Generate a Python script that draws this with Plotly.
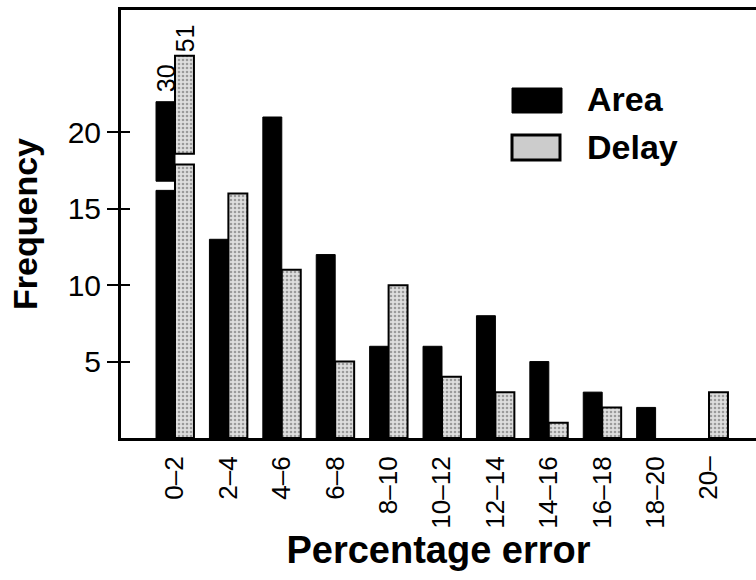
import plotly.graph_objects as go

# ---------------- data ----------------
categories = ["0–2", "2–4", "4–6", "6–8", "8–10", "10–12",
              "12–14", "14–16", "16–18", "18–20", "20–"]
area = [30, 13, 21, 12, 6, 6, 8, 5, 3, 2, 0]
delay = [51, 16, 11, 5, 10, 4, 3, 1, 2, 0, 3]

# broken-bar display for values beyond the axis: (lower top, upper base, upper top)
area_break = (16.2, 16.8, 22.0)
delay_break = (17.9, 18.6, 25.0)
y_max = 28

FONT = "Liberation Sans, Arial, Helvetica, sans-serif"
BARGAP = 0.29
DELAY_FILL = "#cccccc"

x_idx = list(range(len(categories)))


def split(values, brk):
    low = [brk[0] if v > y_max else (v if v > 0 else None) for v in values]
    up_x = [x for x, v in zip(x_idx, values) if v > y_max]
    return low, up_x


area_low, area_up_x = split(area, area_break)
delay_low, delay_up_x = split(delay, delay_break)

delay_marker = dict(color=DELAY_FILL, line=dict(color="black", width=2),
                    pattern=dict(shape=".", fgcolor="#555555", bgcolor="#dedede",
                                 size=4, solidity=0.33))
area_marker = dict(color="black", line=dict(color="black", width=1))

fig = go.Figure()
fig.add_trace(go.Bar(x=x_idx, y=area_low, name="Area", offsetgroup="A",
                     marker=area_marker, showlegend=False))
fig.add_trace(go.Bar(x=area_up_x, y=[area_break[2] - area_break[1]] * len(area_up_x),
                     base=[area_break[1]] * len(area_up_x), name="Area",
                     offsetgroup="A", marker=area_marker, showlegend=False))
fig.add_trace(go.Bar(x=x_idx, y=delay_low, name="Delay", offsetgroup="D",
                     marker=delay_marker, showlegend=False))
fig.add_trace(go.Bar(x=delay_up_x, y=[delay_break[2] - delay_break[1]] * len(delay_up_x),
                     base=[delay_break[1]] * len(delay_up_x), name="Delay",
                     offsetgroup="D", marker=delay_marker, showlegend=False))
# invisible trace to carry the inner tick axis
fig.add_trace(go.Scatter(x=[0], y=[0], yaxis="y2", mode="markers",
                         marker=dict(opacity=0), hoverinfo="skip", showlegend=False))

# value labels on the broken bars
half = (1 - BARGAP) / 4
for xv in area_up_x:
    fig.add_annotation(x=xv - half, y=area_break[2], text=str(area[xv]), textangle=-90,
                       showarrow=False, yanchor="bottom", xanchor="center", yshift=7,
                       font=dict(family=FONT, size=25, color="black"))
for xv in delay_up_x:
    fig.add_annotation(x=xv + half, y=delay_break[2], text=str(delay[xv]), textangle=-90,
                       showarrow=False, yanchor="bottom", xanchor="center", yshift=2,
                       font=dict(family=FONT, size=25, color="black"))

# custom legend
L = 121; W = 635; B = 438; H = 428
def px(x): return (x - L) / W
def py(y): return (B - y) / H

fig.add_shape(type="rect", xref="paper", yref="paper", x0=px(512), x1=px(562),
              y0=py(113), y1=py(88), fillcolor="black", line=dict(color="black", width=1))
fig.add_shape(type="rect", xref="paper", yref="paper", x0=px(512), x1=px(560),
              y0=py(160), y1=py(135), fillcolor=DELAY_FILL, line=dict(color="black", width=3))
fig.add_annotation(xref="paper", yref="paper", x=px(585), y=py(99), text="Area",
                   showarrow=False, xanchor="left", yanchor="middle",
                   font=dict(family=FONT, size=34, color="black", weight="bold"))
fig.add_annotation(xref="paper", yref="paper", x=px(585), y=py(147), text="Delay",
                   showarrow=False, xanchor="left", yanchor="middle",
                   font=dict(family=FONT, size=34, color="black", weight="bold"))

fig.update_layout(
    width=756, height=580,
    margin=dict(l=121, r=0, t=10, b=142, autoexpand=False),
    paper_bgcolor="white", plot_bgcolor="white",
    barmode="group", bargap=BARGAP, bargroupgap=0,
    font=dict(family=FONT, color="black"),
    xaxis=dict(range=[-1.011, 10.88], tickmode="array", tickvals=x_idx,
               ticktext=categories, tickangle=-90, ticks="", automargin=False,
               tickfont=dict(size=26), ticklabelstandoff=5,
               showline=True, linewidth=3, linecolor="black", mirror=True,
               showgrid=False, zeroline=False,
               title=dict(text="Percentage error", standoff=7,
                          font=dict(size=38, weight="bold"))),
    yaxis=dict(range=[0, y_max], tickvals=[5, 10, 15, 20], ticks="outside",
               ticklen=11, tickwidth=2, tickcolor="black", tickfont=dict(size=30),
               showline=True, linewidth=3, linecolor="black", automargin=False,
               showgrid=False, zeroline=False,
               title=dict(text="Frequency", standoff=20,
                          font=dict(size=34, weight="bold"))),
    yaxis2=dict(overlaying="y", matches="y", side="left", tickvals=[5, 10, 15, 20],
                ticks="inside", ticklen=9, tickwidth=2, tickcolor="black",
                showticklabels=False, showline=False, showgrid=False, zeroline=False),
)

fig.write_html("out.html", config={"displayModeBar": False},
               post_script="document.body.style.margin='0';document.body.style.overflow='hidden';")
